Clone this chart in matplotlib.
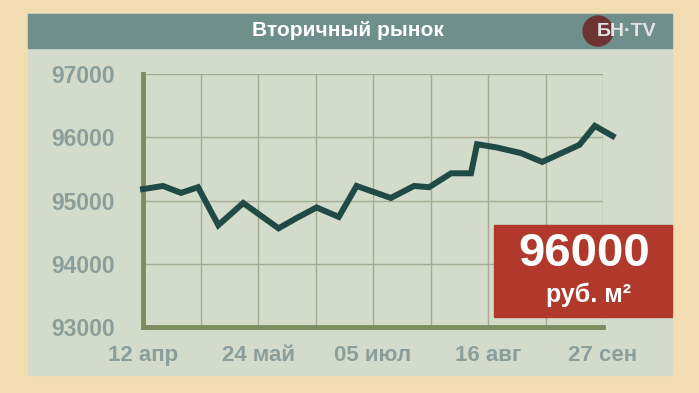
import matplotlib.pyplot as plt
from matplotlib.patches import Rectangle, Circle

plt.rcParams['font.family'] = ['Liberation Sans', 'DejaVu Sans']

# days since 12 apr, price per m2
days = [0, 7.3, 13.9, 20.1, 27.5, 36.6, 49.5, 56, 63.4, 71.5, 78, 90.5, 99,
        104.5, 112.5, 119.8, 122, 129, 138, 145.8, 159.4, 165, 171.5]
price = [95180, 95230, 95120, 95210, 94610, 94960, 94560, 94720, 94890, 94740,
         95230, 95040, 95230, 95210, 95430, 95430, 95890, 95840, 95750, 95610,
         95880, 96180, 96020]
tick_days = [0, 42, 84, 126, 168]
tick_labels = ['12 апр', '24 май', '05 июл', '16 авг', '27 сен']
y_ticks = [93000, 94000, 95000, 96000, 97000]

W, H = 699, 393
fig = plt.figure(figsize=(W / 100, H / 100), dpi=100)
fig.patch.set_facecolor('#f2dcb2')

# background layer in pixel coords
bg = fig.add_axes([0, 0, 1, 1])
bg.set_xlim(0, W)
bg.set_ylim(H, 0)
bg.axis('off')
bg.add_patch(Rectangle((28, 14), 644, 361, color='#d3dccb'))
bg.add_patch(Rectangle((28, 14), 644, 34, color='#6f8f8d'))
bg.text(348, 31, 'Вторичный рынок', color='white', fontsize=15,
        fontweight='bold', ha='center', va='center')
bg.add_patch(Circle((598, 31), 15, color='#6e3434'))
bg.text(597, 32, 'БН·TV', color='#e4e4e4', fontsize=14, fontweight='bold',
        ha='left', va='center')

ax = fig.add_axes([143 / W, 1 - 327 / H, 460 / W, 253 / H])
ax.patch.set_alpha(0)
ax.plot(days, price, color='#1f4a45', lw=4.3, solid_joinstyle='miter',
        clip_on=False, zorder=5)
ax.set_xlim(0, 168)
ax.set_ylim(93000, 97000)

ax.set_xticks(tick_days)
ax.set_xticklabels(tick_labels)
ax.set_xticks(range(0, 169, 21), minor=True)
ax.set_yticks(y_ticks)
ax.set_yticklabels([str(v) for v in y_ticks])
ax.grid(True, which='both', color='#a3ab92', lw=1)
ax.tick_params(which='both', length=0)
ax.tick_params(axis='y', pad=20, labelsize=16.5, labelcolor='#8a9f9b')
ax.tick_params(axis='x', pad=13, labelsize=16, labelcolor='#8a9f9b')
for lab in ax.get_xticklabels() + ax.get_yticklabels():
    lab.set_fontweight('bold')

for s in ['top', 'right']:
    ax.spines[s].set_visible(False)
for s in ['left', 'bottom']:
    ax.spines[s].set_color('#7b8d5c')
    ax.spines[s].set_linewidth(3.5)

# price badge
fg = fig.add_axes([0, 0, 1, 1])
fg.set_xlim(0, W)
fg.set_ylim(H, 0)
fg.axis('off')
fg.add_patch(Rectangle((494, 225), 178, 92, color='#b0392c'))
fg.text(584, 254, '96000', color='white', fontsize=34, fontweight='bold',
        ha='center', va='center')
fg.text(588, 295, 'руб. м²', color='white', fontsize=18, fontweight='bold',
        ha='center', va='center')

fig.savefig('out.png', dpi=100, facecolor=fig.get_facecolor())
